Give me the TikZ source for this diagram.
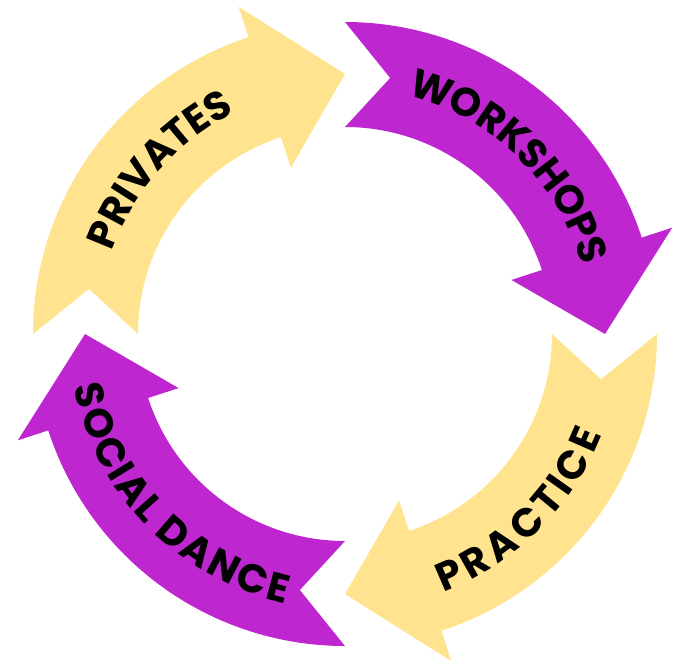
\documentclass[tikz,border=0pt]{standalone}
\usepackage{fontspec}
\newfontfamily\labelfont{Poppins}
\usetikzlibrary{decorations.text}
\definecolor{butter}{HTML}{FFE38F}
\definecolor{orchid}{HTML}{BE26CF}

\begin{document}
\begin{tikzpicture}[
    bandarrow/.style={fill=#1},
    bandtext/.style={decorate, decoration={text effects along path, text={#1},
        text effects/.cd, text along path, fit text to path,
        characters={text=black, font=\labelfont\bfseries\fontsize{40pt}{40pt}\selectfont}}}
]
\useasboundingbox (-345pt,-331pt) rectangle (340pt,334pt);

% four quarter arrows, clockwise
\foreach \a/\c in {180/butter, 90/orchid, 0/butter, -90/orchid}{
  \path[bandarrow=\c] (\a:312pt) arc[start angle=\a, end angle=\a-72, radius=312pt]
    -- ({\a-72}:344pt) -- ({\a-90}:260pt) -- ({\a-72}:175pt) -- ({\a-72}:207pt)
    arc[start angle=\a-72, end angle=\a, radius=207pt]
    -- ({\a-10}:260pt) -- cycle;
}

% labels
\path[bandtext=PRIVATES]     (160.5:247pt) arc[start angle=160.5, end angle=116.5, radius=247pt];
\path[bandtext=WORKSHOPS]    (75.5:247pt)  arc[start angle=75.5,  end angle=16,  radius=247pt];
\path[bandtext=PRACTICE]     (-69.2:276pt) arc[start angle=-69.2, end angle=-21.4, radius=276pt];
\path[bandtext=SOCIAL DANCE] (191:276pt)   arc[start angle=191, end angle=257.5, radius=276pt];
\end{tikzpicture}
\end{document}
